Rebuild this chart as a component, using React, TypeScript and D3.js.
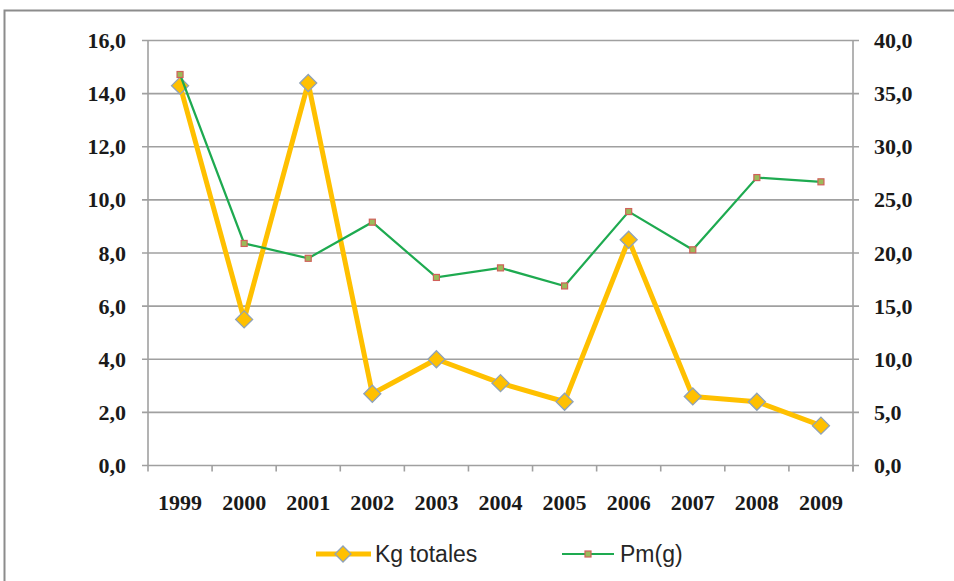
import * as d3 from "d3";
import React, { useEffect, useRef } from "react";

const years = ["1999", "2000", "2001", "2002", "2003", "2004", "2005", "2006", "2007", "2008", "2009"];
const kgTotales = [14.3, 5.5, 14.4, 2.7, 4.0, 3.1, 2.4, 8.5, 2.6, 2.4, 1.5];
const pmG = [36.8, 20.9, 19.5, 22.9, 17.7, 18.6, 16.9, 23.9, 20.3, 27.1, 26.7];
const leftTicks = [0, 2, 4, 6, 8, 10, 12, 14, 16];
const rightTicks = [0, 5, 10, 15, 20, 25, 30, 35, 40];
const seriesNames = ["Kg totales", "Pm(g)"];

const width = 954;
const height = 581;
const margin = { top: 40.5, right: 101, bottom: 115.5, left: 148 };

const fmt = (d: number) => d3.format(".1f")(d).replace(".", ",");

const App: React.FC = () => {
    const wrapper = useRef<SVGSVGElement>(null);

    useEffect(() => {
        if (!wrapper.current) return;
        const svg = d3.select(wrapper.current);
        svg.selectAll("*").remove();
        svg.attr("width", width).attr("height", height).attr("viewBox", [0, 0, width, height]);

        const x0 = margin.left;
        const x1 = width - margin.right;
        const y0 = height - margin.bottom;
        const y1 = margin.top;

        const x = d3.scaleBand<string>().domain(years).range([x0, x1]);
        const cx = (d: string) => (x(d) || 0) + x.bandwidth() / 2;
        const yL = d3.scaleLinear().domain([0, 16]).range([y0, y1]);
        const yR = d3.scaleLinear().domain([0, 40]).range([y0, y1]);

        // white background + outer frame
        svg.append("rect").attr("width", width).attr("height", height).attr("fill", "#fff");
        svg.append("rect")
            .attr("x", 4.5).attr("y", 10.5)
            .attr("width", width + 20).attr("height", height + 20)
            .attr("fill", "none").attr("stroke", "#8c8c8c").attr("stroke-width", 2);

        const grid = svg.append("g");
        grid.selectAll("line")
            .data(leftTicks.filter((d) => d > 0))
            .join("line")
            .attr("x1", x0 - 6).attr("x2", x1 + 6)
            .attr("y1", (d) => yL(d)).attr("y2", (d) => yL(d))
            .attr("stroke", "#a0a0a0").attr("stroke-width", 1.6);

        // axes lines
        const axisColor = "#a0a0a0";
        svg.append("line").attr("x1", x0).attr("x2", x0).attr("y1", y1).attr("y2", y0)
            .attr("stroke", axisColor).attr("stroke-width", 1.6);
        svg.append("line").attr("x1", x1).attr("x2", x1).attr("y1", y1).attr("y2", y0 + 6)
            .attr("stroke", axisColor).attr("stroke-width", 1.6);
        svg.append("line").attr("x1", x0 - 6).attr("x2", x1 + 6).attr("y1", y0).attr("y2", y0)
            .attr("stroke", axisColor).attr("stroke-width", 1.6);

        // x ticks at category boundaries
        const bounds = years.map((d) => x(d) || 0).concat([x1]);
        svg.append("g").selectAll("line")
            .data(bounds)
            .join("line")
            .attr("x1", (d) => d).attr("x2", (d) => d)
            .attr("y1", y0).attr("y2", y0 + 6)
            .attr("stroke", axisColor).attr("stroke-width", 1.6);

        const labelFont = "'Liberation Serif', 'DejaVu Serif', serif";

        svg.append("g").selectAll("text")
            .data(leftTicks)
            .join("text")
            .attr("x", x0 - 22)
            .attr("y", (d) => yL(d) + 7.5)
            .attr("text-anchor", "end")
            .style("font-family", labelFont)
            .style("font-weight", "bold")
            .style("font-size", "22px")
            .attr("fill", "#1a1a1a")
            .text((d) => fmt(d));

        svg.append("g").selectAll("text")
            .data(rightTicks)
            .join("text")
            .attr("x", x1 + 21)
            .attr("y", (d) => yR(d) + 7.5)
            .style("font-family", labelFont)
            .style("font-weight", "bold")
            .style("font-size", "22px")
            .attr("fill", "#1a1a1a")
            .text((d) => fmt(d));

        svg.append("g").selectAll("text")
            .data(years)
            .join("text")
            .attr("x", (d) => cx(d))
            .attr("y", y0 + 44)
            .attr("text-anchor", "middle")
            .style("font-family", labelFont)
            .style("font-weight", "bold")
            .style("font-size", "22px")
            .attr("fill", "#1a1a1a")
            .text((d) => d);

        // Kg totales series
        const kgLine = d3.line<number>().x((_, i) => cx(years[i])).y((d) => yL(d));
        svg.append("path")
            .attr("d", kgLine(kgTotales))
            .attr("fill", "none")
            .attr("stroke", "#FFC000")
            .attr("stroke-width", 5)
            .attr("stroke-linejoin", "round");

        const diamond = (s: number) => `M0,${-s} L${s},0 L0,${s} L${-s},0 Z`;
        svg.append("g").selectAll("path")
            .data(kgTotales)
            .join("path")
            .attr("transform", (d, i) => `translate(${cx(years[i])},${yL(d)})`)
            .attr("d", diamond(8.5))
            .attr("fill", "#FFC000")
            .attr("stroke", "#8FA2B8")
            .attr("stroke-width", 1.3);

        // Pm(g) series
        const pmLine = d3.line<number>().x((_, i) => cx(years[i])).y((d) => yR(d));
        svg.append("path")
            .attr("d", pmLine(pmG))
            .attr("fill", "none")
            .attr("stroke", "#1EAA50")
            .attr("stroke-width", 2.2);

        svg.append("g").selectAll("rect")
            .data(pmG)
            .join("rect")
            .attr("x", (d, i) => cx(years[i]) - 3)
            .attr("y", (d) => yR(d) - 3)
            .attr("width", 6).attr("height", 6)
            .attr("fill", "#9BBB59")
            .attr("stroke", "#D0605A")
            .attr("stroke-width", 1.2);

        // legend
        const legendY = 554;
        const lg = svg.append("g");
        lg.append("line").attr("x1", 316).attr("x2", 371).attr("y1", legendY).attr("y2", legendY)
            .attr("stroke", "#FFC000").attr("stroke-width", 5);
        lg.append("path").attr("transform", `translate(343,${legendY})`).attr("d", diamond(8))
            .attr("fill", "#FFC000").attr("stroke", "#8FA2B8").attr("stroke-width", 1.3);
        lg.append("text").attr("x", 375).attr("y", legendY + 8)
            .style("font-family", "'Liberation Sans', Arial, sans-serif")
            .style("font-size", "23px").attr("fill", "#262626")
            .text(seriesNames[0]);

        lg.append("line").attr("x1", 562).attr("x2", 614).attr("y1", legendY).attr("y2", legendY)
            .attr("stroke", "#1EAA50").attr("stroke-width", 2.2);
        lg.append("rect").attr("x", 585).attr("y", legendY - 3).attr("width", 6).attr("height", 6)
            .attr("fill", "#9BBB59").attr("stroke", "#D0605A").attr("stroke-width", 1.2);
        lg.append("text").attr("x", 620).attr("y", legendY + 8)
            .style("font-family", "'Liberation Sans', Arial, sans-serif")
            .style("font-size", "23px").attr("fill", "#262626")
            .text(seriesNames[1]);
    }, []);

    return <svg ref={wrapper} style={{ position: "absolute", left: 0, top: 0, display: "block" }} />;
};

export default App;
